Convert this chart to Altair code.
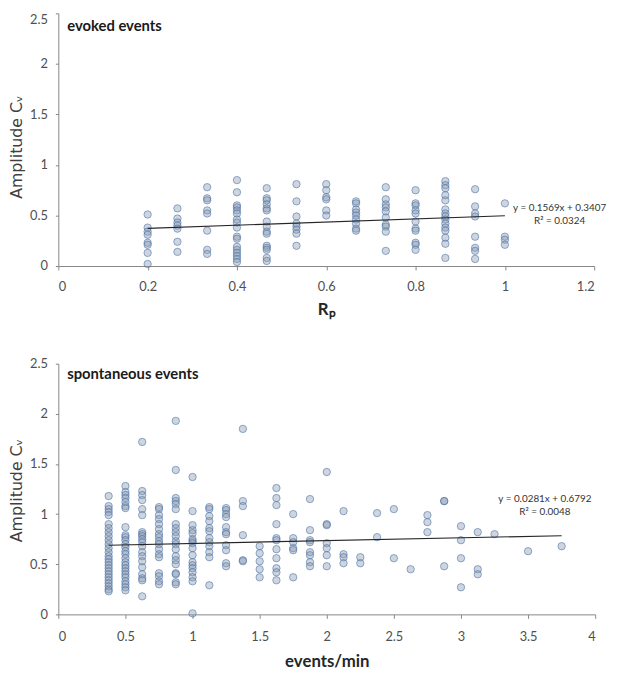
import altair as alt
import pandas as pd

# ---------------- data: evoked events ----------------
evoked_rp = [0.2, 0.2667, 0.3333, 0.4, 0.4667, 0.5333, 0.6, 0.6667, 0.7333, 0.8, 0.8667, 0.9333, 1.0]
evoked_cv = [
    [0.51, 0.38, 0.34, 0.31, 0.23, 0.21, 0.13, 0.02],
    [0.57, 0.47, 0.43, 0.40, 0.37, 0.24, 0.14],
    [0.78, 0.67, 0.65, 0.55, 0.52, 0.35, 0.16, 0.12],
    [0.85, 0.73, 0.60, 0.58, 0.55, 0.52, 0.46, 0.43, 0.38, 0.29, 0.27, 0.19, 0.16, 0.13, 0.10, 0.07, 0.04],
    [0.77, 0.67, 0.65, 0.61, 0.57, 0.55, 0.44, 0.39, 0.34, 0.32, 0.20, 0.18, 0.16, 0.08, 0.05],
    [0.81, 0.64, 0.49, 0.42, 0.39, 0.36, 0.32, 0.20],
    [0.81, 0.75, 0.68, 0.66, 0.55, 0.50],
    [0.64, 0.62, 0.56, 0.53, 0.50, 0.46, 0.42, 0.37, 0.35],
    [0.78, 0.66, 0.61, 0.58, 0.54, 0.48, 0.41, 0.39, 0.34, 0.15],
    [0.75, 0.62, 0.60, 0.55, 0.52, 0.44, 0.37, 0.35, 0.23, 0.21, 0.16],
    [0.84, 0.80, 0.77, 0.70, 0.65, 0.56, 0.52, 0.49, 0.46, 0.42, 0.38, 0.35, 0.28, 0.22, 0.08],
    [0.76, 0.59, 0.52, 0.49, 0.29, 0.18, 0.15, 0.07],
    [0.62, 0.29, 0.26, 0.21],
]
evoked_slope = 0.1569
evoked_intercept = 0.3407
evoked_eq = "y = 0.1569x + 0.3407"
evoked_r2 = "R² = 0.0324"

# ---------------- data: spontaneous events ----------------
spont_rate = [0.375, 0.5, 0.625, 0.75, 0.875, 1.0, 1.125, 1.25, 1.375, 1.5, 1.625, 1.75, 1.875,
              2.0, 2.125, 2.25, 2.375, 2.5, 2.625, 2.75, 2.875, 3.0, 3.125, 3.25, 3.5, 3.75]
spont_cv = [
    [1.18, 1.08, 1.05, 1.02, 0.99, 0.90, 0.86, 0.82, 0.78, 0.74, 0.70, 0.66, 0.62, 0.58, 0.55,
     0.52, 0.49, 0.46, 0.43, 0.40, 0.37, 0.34, 0.31, 0.28, 0.25, 0.23],
    [1.28, 1.22, 1.19, 1.16, 1.12, 1.08, 1.06, 0.87, 0.79, 0.77, 0.74, 0.70, 0.67, 0.63, 0.60,
     0.56, 0.52, 0.49, 0.46, 0.43, 0.40, 0.37, 0.33, 0.30, 0.27, 0.24],
    [1.72, 1.23, 1.19, 1.14, 1.05, 0.99, 0.82, 0.80, 0.78, 0.75, 0.72, 0.68, 0.62, 0.58, 0.53,
     0.47, 0.40, 0.36, 0.34, 0.18],
    [1.07, 1.05, 0.99, 0.95, 0.90, 0.85, 0.80, 0.77, 0.73, 0.70, 0.65, 0.60, 0.57, 0.41, 0.38,
     0.33, 0.30],
    [1.93, 1.44, 1.16, 1.13, 1.10, 1.05, 0.90, 0.86, 0.82, 0.78, 0.73, 0.70, 0.65, 0.58, 0.54,
     0.50, 0.41, 0.40, 0.32, 0.30],
    [1.37, 1.03, 0.89, 0.84, 0.81, 0.75, 0.73, 0.71, 0.66, 0.59, 0.52, 0.49, 0.46, 0.42, 0.37,
     0.33, 0.01],
    [1.07, 1.05, 0.98, 0.93, 0.86, 0.83, 0.76, 0.72, 0.68, 0.62, 0.57, 0.29],
    [1.06, 1.04, 1.00, 0.97, 0.87, 0.82, 0.80, 0.69, 0.64, 0.51, 0.48],
    [1.85, 1.13, 1.08, 0.79, 0.54, 0.53],
    [0.68, 0.61, 0.53, 0.45, 0.37],
    [1.26, 1.16, 1.09, 0.90, 0.76, 0.74, 0.65, 0.56, 0.46, 0.42, 0.34],
    [1.00, 0.76, 0.72, 0.66, 0.64, 0.37],
    [1.15, 0.84, 0.74, 0.72, 0.62, 0.59, 0.52, 0.48],
    [1.42, 0.90, 0.89, 0.71, 0.66, 0.59, 0.48],
    [1.03, 0.60, 0.57, 0.51],
    [0.57, 0.51],
    [1.01, 0.77],
    [1.05, 0.56],
    [0.45],
    [0.99, 0.92, 0.82],
    [1.13, 1.13, 0.48],
    [0.88, 0.74, 0.56, 0.27],
    [0.82, 0.45, 0.40],
    [0.80],
    [0.63],
    [0.68],
]
spont_slope = 0.0281
spont_intercept = 0.6792
spont_eq = "y = 0.0281x + 0.6792"
spont_r2 = "R² = 0.0048"

y_ticks = [0, 0.5, 1, 1.5, 2, 2.5]
evoked_x_ticks = [0, 0.2, 0.4, 0.6, 0.8, 1, 1.2]
spont_x_ticks = [0, 0.5, 1, 1.5, 2, 2.5, 3, 3.5, 4]

LFONT = "Lato"
AXIS_COL = "#868686"
LABEL_COL = "#505050"


def long_table(xs, yss):
    rows = []
    for x, ys in zip(xs, yss):
        for y in ys:
            rows.append({"x": x, "y": y})
    return pd.DataFrame(rows)


def text_layer(txt, px, py, size, weight="normal", align="center", color="#333333"):
    return alt.Chart(pd.DataFrame({"t": [txt]})).mark_text(
        align=align, baseline="middle", fontSize=size, fontWeight=weight, font=LFONT, color=color
    ).encode(text="t:N", x=alt.value(px), y=alt.value(py))


def panel(xs, yss, slope, intercept, xdom, xticks, xtitle, label, eq, r2,
          w, h, eq_x, eq_y, lbl_x, lbl_y, x_lab_pad, x_title_pad, flush_top, y_title_y):
    df = long_table(xs, yss)
    xscale = alt.Scale(domain=xdom, nice=False, zero=False)
    yscale = alt.Scale(domain=[0, 2.5], nice=False)
    xaxis = alt.Axis(values=xticks, format="~g", grid=False, title=xtitle,
                     domainColor=AXIS_COL, tickColor=AXIS_COL, tickSize=4,
                     labelFont=LFONT, labelFontSize=13, labelColor=LABEL_COL,
                     labelPadding=x_lab_pad, titleFont=LFONT, titleFontSize=17,
                     titleFontWeight="bold", titleColor="#262626", titlePadding=x_title_pad)
    ykw = {"titleY": y_title_y}
    if flush_top:
        ykw["labelBaseline"] = {"condition": {"test": "datum.value >= 2.5", "value": "top"},
                                "value": "middle"}
    yaxis = alt.Axis(values=y_ticks, format="~g", grid=False, title="Amplitude Cᵥ",
                     domainColor=AXIS_COL, tickColor=AXIS_COL, tickSize=3,
                     labelFont=LFONT, labelFontSize=13, labelColor=LABEL_COL,
                     labelPadding=8, titleFont="DejaVu Sans", titleFontSize=16,
                     titleFontWeight="normal", titleColor="#404040", titlePadding=5, **ykw)
    pts = alt.Chart(df).mark_circle(
        size=56, fill="#8d9cb0", fillOpacity=0.42, stroke="#3d6aa3",
        strokeOpacity=0.55, strokeWidth=1
    ).encode(
        x=alt.X("x:Q", scale=xscale, axis=xaxis),
        y=alt.Y("y:Q", scale=yscale, axis=yaxis),
    )
    fit = alt.Chart(pd.DataFrame({"x": [min(xs), max(xs)]})).transform_calculate(
        y=f"{slope} * datum.x + {intercept}"
    ).mark_line(color="#262626", strokeWidth=1.1).encode(
        x=alt.X("x:Q", scale=xscale), y=alt.Y("y:Q", scale=yscale)
    )
    layers = [
        pts, fit,
        text_layer(label, lbl_x, lbl_y, 15, weight="bold", align="left", color="#1a1a1a"),
        text_layer(eq, eq_x, eq_y, 10),
        text_layer(r2, eq_x, eq_y + 13, 10),
    ]
    return alt.layer(*layers).properties(width=w, height=h)


top = panel(evoked_rp, evoked_cv, evoked_slope, evoked_intercept, [0, 1.2], evoked_x_ticks,
            "Rₚ", "evoked events", evoked_eq, evoked_r2,
            543, 256, 508, 197, 9, 13, 11, 8, True, 135)
bottom = panel(spont_rate, spont_cv, spont_slope, spont_intercept, [0, 4], spont_x_ticks,
               "events/min", "spontaneous events", spont_eq, spont_r2,
               544, 254, 493, 137, 9, 10, 12, 11, False, 128)

chart = alt.vconcat(top, bottom, spacing=41).properties(
    padding={"left": 0, "top": 0, "right": 2, "bottom": 2}
).configure_view(stroke=None)

chart.save("out.html", embed_options={"renderer": "svg", "actions": False})
